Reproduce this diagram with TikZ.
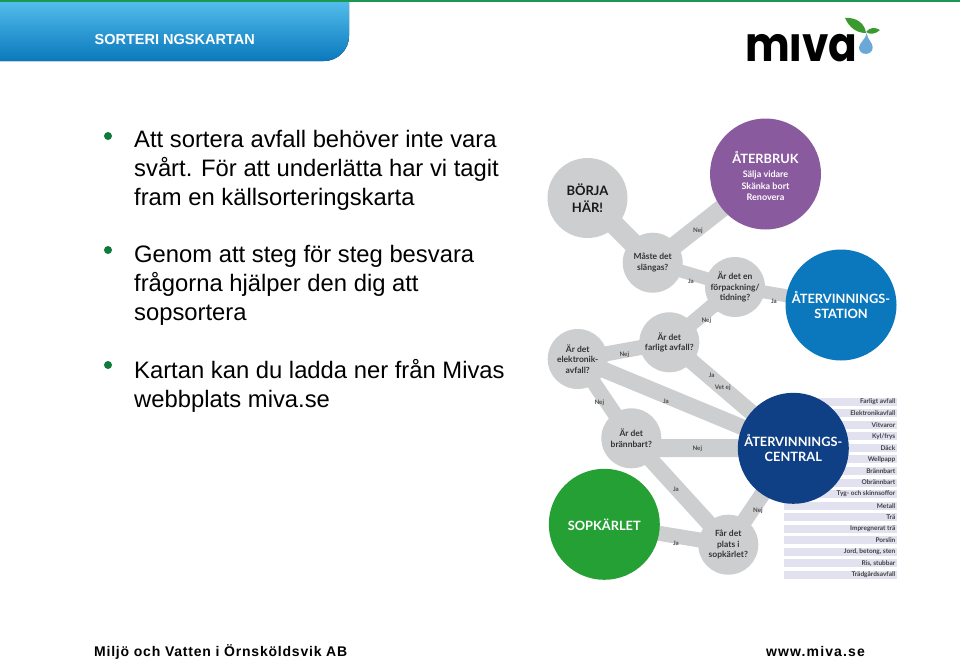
\documentclass[tikz,border=0pt]{standalone}
\usepackage{fontspec}
\setmainfont{Liberation Sans}
\newfontfamily\latofont{Lato}
\newfontfamily\footfont[LetterSpace=5.6]{Liberation Sans}
\newfontfamily\footwide[LetterSpace=8]{Liberation Sans}
\newfontfamily\logofont[FakeStretch=0.88,BoldFeatures={FakeStretch=0.88}]{Poppins}
\usetikzlibrary{backgrounds}
\definecolor{tabtop}{HTML}{52BCEA}
\definecolor{tabbot}{HTML}{0A78BD}
\definecolor{topline}{HTML}{1A9A50}
\definecolor{bulletgreen}{HTML}{0F7A3C}
\definecolor{linkgray}{HTML}{CDCECF}
\definecolor{bargray}{HTML}{E2E1F0}
\definecolor{purplebig}{HTML}{8A5A9F}
\definecolor{bluebig}{HTML}{0B78BD}
\definecolor{navybig}{HTML}{0F3F85}
\definecolor{greenbig}{HTML}{24A035}
\definecolor{leafgreen}{HTML}{3A9A2F}
\definecolor{dropblue}{HTML}{6AA8D8}
\tikzset{
  bodytext/.style={anchor=base west, inner sep=0pt, align=left, font=\fontsize{23.8}{28.8}\selectfont, text=black},
  bulletdot/.style={circle, fill=bulletgreen, inner sep=0pt, minimum size=8},
  question/.style={circle, fill=linkgray, inner sep=0pt, minimum size=60, align=center, text=black!80, font=\latofont\bfseries\fontsize{8.5}{10.6}\selectfont},
  bigcircle/.style={circle, inner sep=0pt, minimum size=111, align=center, text=white, font=\latofont\bfseries\fontsize{12.8}{14.8}\selectfont},
  link/.style={draw=linkgray, line width=#1, shorten <=-3pt, shorten >=-3pt},
  link/.default=15,
  ans/.style={inner sep=0pt, text=black!70, font=\latofont\bfseries\fontsize{6.2}{8}\selectfont},
  baritem/.style={anchor=east, inner sep=0pt, text=black!75, font=\latofont\bfseries\fontsize{6.5}{8}\selectfont},
}
\begin{document}
\begin{tikzpicture}[x=1pt,y=-1pt]
  \useasboundingbox (0,0) rectangle (960,661);
  % Header
  \fill[top color=tabtop, bottom color=tabbot] (0,2) -- (349,2) {[rounded corners=25] -- (349,61)} -- (0,61) -- cycle;
  \fill[topline] (0,0) rectangle (960,2);
  \node[anchor=base west, inner sep=0pt, text=white, font=\bfseries\fontsize{14.5}{16}\selectfont] (title) at (94.5,45) {SORTERI NGSKARTAN};
  % Logo
  \begin{scope}
    \clip (740,34) rectangle (857,70);
    \node[anchor=base west, inner sep=0pt, text=black, font=\logofont\bfseries\fontsize{48}{50}\selectfont] (logo) at (745,61) {miva};
  \end{scope}
  \fill[leafgreen] (845,18) .. controls (857,17) and (865,24) .. (866,33) .. controls (856,33) and (849,27) .. (845,18);
  \fill[leafgreen] (866,32) .. controls (870,27) and (875,27) .. (880,30) .. controls (876,34) and (870,35) .. (866,32);
  \fill[dropblue] (866.7,33) .. controls (867,39) and (873,43) .. (872.7,47.5) .. controls (872.5,56) and (859,56) .. (859,47.5) .. controls (859,43) and (866,39) .. (866.7,33);
  % Bullet list
  \node[bulletdot] (dota) at (108,136) {};
  \node[bulletdot] (dotb) at (108,250) {};
  \node[bulletdot] (dotc) at (108,365) {};
  \node[bodytext] (parta) at (134,205) {Att sortera avfall behöver inte vara\\svårt. För att underlätta har vi tagit\\fram en källsorteringskarta};
  \node[bodytext] (partb) at (134,320) {Genom att steg för steg besvara\\frågorna hjälper den dig att\\sopsortera};
  \node[bodytext] (partc) at (134,407) {Kartan kan du ladda ner från Mivas\\webbplats miva.se};
  % Map circles
  \node[question, minimum size=80, text=black!90, font=\latofont\bfseries\fontsize{13}{17}\selectfont] (borja) at (587.5,198) {BÖRJA\\HÄR!};
  \node[bigcircle, fill=purplebig, font=\latofont\bfseries\fontsize{9}{11.3}\selectfont] (aterbruk) at (765.5,174) {\rule{0pt}{16pt}{\fontsize{12.8}{14}\selectfont ÅTERBRUK}\\[3pt]Sälja vidare\\Skänka bort\\Renovera};
  \node[bigcircle, fill=bluebig] (station) at (841,305) {ÅTERVINNINGS-\\STATION};
  \node[bigcircle, fill=navybig] (central) at (793.3,448.3) {ÅTERVINNINGS-\\CENTRAL};
  \node[bigcircle, fill=greenbig] (sopkarl) at (604.3,524.3) {SOPKÄRLET};
  \node[question] (maste) at (652.7,262.7) {Måste det\\slängas?};
  \node[question] (forp) at (735,287) {Är det en\\förpackning/\\tidning?};
  \node[question] (farligt) at (669.3,342.3) {Är det\\farligt avfall?};
  \node[question] (elektronik) at (577.7,359) {Är det\\elektronik-\\avfall?};
  \node[question] (brann) at (631.3,438.3) {Är det\\brännbart?};
  \node[question] (plats) at (728.3,544.7) {Får det\\plats i\\sopkärlet?};
  \coordinate (brannout) at (640,448);
  % Links and list bars behind the circles
  \begin{scope}[on background layer]
    \draw[link=20] (borja) -- (maste);
    \draw[link=18] (maste) -- (aterbruk);
    \draw[link=13] (maste) -- (forp);
    \draw[link=13] (forp) -- (station);
    \draw[link] (forp) -- (farligt);
    \draw[link] (farligt) -- (elektronik);
    \draw[link=16] (farligt) -- (central);
    \draw[link=16] (elektronik) -- (central);
    \draw[link] (elektronik) -- (brann);
    \draw[link=18] (brannout) -- (central);
    \draw[link=16] (brann) -- (plats);
    \draw[link] (plats) -- (sopkarl);
    \draw[link=16] (plats) -- (central);
    \foreach \i in {0,...,15} {
      \fill[bargray] (784,397.7+\i*11.55) rectangle (897,405.7+\i*11.55);
    }
  \end{scope}
  % Answers on the links
  \node[ans] (a1) at (698,230.7) {Nej};
  \node[ans] (a2) at (691,281) {Ja};
  \node[ans] (a3) at (774,301.7) {Ja};
  \node[ans] (a4) at (706.3,321) {Nej};
  \node[ans] (a5) at (624.3,354.3) {Nej};
  \node[ans] (a6) at (711.7,375.7) {Ja};
  \node[ans] (a7) at (722.7,387.3) {Vet ej};
  \node[ans] (a8) at (666,401.3) {Ja};
  \node[ans] (a9) at (599.3,402.3) {Nej};
  \node[ans] (a10) at (697.3,449) {Nej};
  \node[ans] (a11) at (676,489.7) {Ja};
  \node[ans] (a12) at (758,510.3) {Nej};
  \node[ans] (a13) at (676,543) {Ja};
  % List of fractions
  \foreach \i/\t in {0/Farligt avfall,1/Elektronikavfall,2/Vitvaror,3/{Kyl/frys},4/Däck,5/Wellpapp,6/Brännbart,7/Obrännbart,8/Tyg- och skinnsoffor,9/Metall,10/Trä,11/Impregnerat trä,12/Porslin,{13/Jord, betong, sten},{14/Ris, stubbar},15/Trädgårdsavfall} {
    \node[baritem] (bar\i) at (895.5,401.7+\i*11.55) {\t};
  }
  % Footer
  \node[anchor=base west, inner sep=0pt, text=black, font=\footfont\bfseries\fontsize{14}{16}\selectfont] (footl) at (94,656) {Miljö och Vatten i Örnsköldsvik AB};
  \node[anchor=base west, inner sep=0pt, text=black, font=\footwide\bfseries\fontsize{14}{16}\selectfont] (footr) at (766,656) {www.miva.se};
\end{tikzpicture}
\end{document}
